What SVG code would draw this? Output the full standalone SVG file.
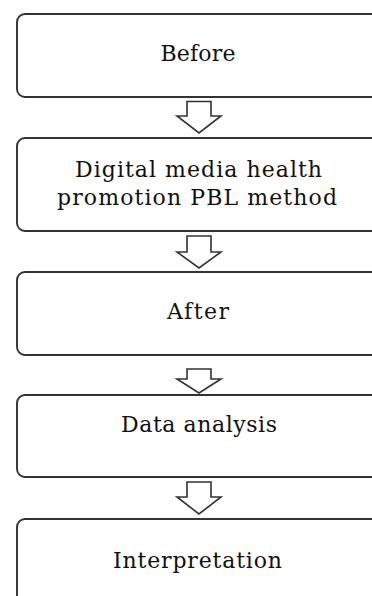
<svg xmlns="http://www.w3.org/2000/svg" width="372" height="596" viewBox="0 0 372 596">
<style>
.box{fill:#ffffff;stroke:#333333;stroke-width:1.9}
.arr{fill:#ffffff;stroke:#333333;stroke-width:1.6;stroke-linejoin:miter}
.lbl{font-family:"DejaVu Serif","Liberation Serif",serif;font-size:22px;fill:#111111;text-anchor:middle}
</style>
<rect width="372" height="596" fill="#ffffff"/>
<g id="connectors">
<polygon class="arr" points="187,101.5 211,101.5 211,116 221,116 199,133 177,116 187,116"/>
<polygon class="arr" points="187,236 211,236 211,252 221,252 199,268 177,252 187,252"/>
<polygon class="arr" points="187,369 211,369 211,379 221,379 199,393 177,379 187,379"/>
<polygon class="arr" points="187,482 211,482 211,497 221,497 199,514 177,497 187,497"/>
</g>
<g id="node-before">
<rect class="box" x="17" y="14" width="364" height="83" rx="8"/>
<text class="lbl" x="198" y="61" textLength="75">Before</text>
</g>
<g id="node-method">
<rect class="box" x="17" y="138" width="364" height="93" rx="8"/>
<text class="lbl" x="198.5" y="177" textLength="247">Digital media health</text>
<text class="lbl" x="197" y="205" textLength="280">promotion PBL method</text>
</g>
<g id="node-after">
<rect class="box" x="17" y="272" width="364" height="83" rx="8"/>
<text class="lbl" x="198" y="319" textLength="62">After</text>
</g>
<g id="node-analysis">
<rect class="box" x="17" y="395" width="364" height="82" rx="8"/>
<text class="lbl" x="199" y="432" textLength="156">Data analysis</text>
</g>
<g id="node-interpretation">
<rect class="box" x="17" y="519" width="364" height="95" rx="8"/>
<text class="lbl" x="197.5" y="568" textLength="169">Interpretation</text>
</g>
</svg>
